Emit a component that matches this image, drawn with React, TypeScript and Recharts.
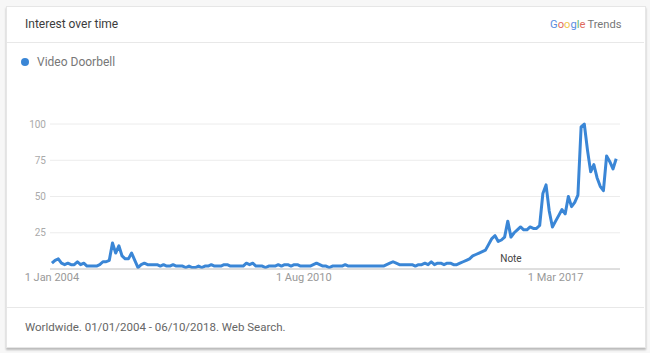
import React from 'react'
import { LineChart, Line, XAxis, YAxis, CartesianGrid, ReferenceLine } from 'recharts'

// Monthly search interest, Jan 2004 .. Oct 2018 (index 0 = Jan 2004)
const interest: number[] = [
  4, 6, 7, 4, 3, 4, 3, 3, 5, 3, 4, 2, 2, 2, 2, 3, 5, 5, 6, 18,
  11, 16, 9, 7, 7, 11, 6, 1, 3, 4, 3, 3, 3, 3, 2, 3, 2, 2, 3, 2,
  2, 2, 1, 2, 1, 1, 2, 1, 2, 2, 3, 2, 2, 2, 3, 3, 2, 2, 2, 2,
  2, 4, 3, 4, 2, 2, 2, 1, 2, 2, 2, 3, 2, 3, 3, 2, 3, 3, 2, 2,
  2, 2, 3, 4, 3, 2, 2, 1, 2, 2, 2, 2, 3, 2, 2, 2, 2, 2, 2, 2,
  2, 2, 2, 2, 2, 3, 4, 5, 4, 3, 3, 3, 3, 3, 2, 3, 3, 4, 3, 5,
  3, 4, 4, 3, 4, 4, 3, 3, 4, 5, 6, 7, 9, 10, 11, 12, 13, 17, 21, 23,
  19, 20, 22, 33, 22, 25, 27, 29, 27, 27, 29, 28, 28, 30, 52, 58, 40, 29, 33, 37,
  41, 38, 50, 43, 46, 51, 98, 100, 82, 67, 72, 63, 57, 54, 78, 74, 69, 76,
]

const seriesName = 'Video Doorbell'
const xTicks = [0, 79, 158]
const xTickLabels = ['1 Jan 2004', '1 Aug 2010', '1 Mar 2017']
const yTicks = [25, 50, 75, 100]
const noteMonth = 144

const data = interest.map((value, month) => ({ month, value }))

const BLUE = '#3a86d6'
const FONT = 'Roboto, "Noto Sans", Arial, sans-serif'

const googleLetters = [
  { ch: 'G', color: '#5a8ee0' },
  { ch: 'o', color: '#e06a5e' },
  { ch: 'o', color: '#f2c74c' },
  { ch: 'g', color: '#5a8ee0' },
  { ch: 'l', color: '#5fb274' },
  { ch: 'e', color: '#e06a5e' },
]

function NoteLabel(props: any) {
  const { viewBox } = props
  if (!viewBox) return null
  return (
    <text
      x={viewBox.x}
      y={viewBox.y + viewBox.height - 7}
      textAnchor="middle"
      fontSize={10}
      fontFamily={FONT}
      fill="#444"
    >
      Note
    </text>
  )
}

export default function App() {
  return (
    <div
      style={{
        position: 'absolute',
        left: 0,
        top: 0,
        width: 650,
        height: 353,
        background: '#f7f7f7',
        fontFamily: FONT,
        overflow: 'hidden',
      }}
    >
      <div
        style={{
          position: 'absolute',
          left: 6,
          top: 6,
          width: 638,
          height: 340,
          background: '#fff',
          border: '1px solid #e6e6e6',
          boxShadow: '0 2px 2px rgba(0,0,0,0.25)',
        }}
      />
      <div style={{ position: 'absolute', left: 25, top: 17, fontSize: 12, color: '#3c3c3c' }}>
        Interest over time
      </div>
      <div style={{ position: 'absolute', left: 550, top: 18, fontSize: 11.2 }}>
        {googleLetters.map((l, i) => (
          <span key={i} style={{ color: l.color }}>
            {l.ch}
          </span>
        ))}
        <span style={{ color: '#777', marginLeft: 2 }}>Trends</span>
      </div>
      <div style={{ position: 'absolute', left: 7, top: 42, width: 637, height: 1, background: '#e8e8e8' }} />
      <div style={{ position: 'absolute', left: 21, top: 58, width: 8, height: 8, borderRadius: 4, background: BLUE }} />
      <div style={{ position: 'absolute', left: 37, top: 55, fontSize: 12, color: '#777' }}>{seriesName}</div>
      <div style={{ position: 'absolute', left: 7, top: 307, width: 637, height: 1, background: '#e8e8e8' }} />
      <div style={{ position: 'absolute', left: 25, top: 320, fontSize: 11.5, color: '#666' }}>
        Worldwide. 01/01/2004 - 06/10/2018. Web Search.
      </div>

      <div style={{ position: 'absolute', left: 0, top: 0 }}>
        <LineChart width={650} height={353} data={data} margin={{ top: 124, right: 30, bottom: 54, left: 0 }}>
          <CartesianGrid vertical={false} stroke="#ececec" />
          <XAxis
            dataKey="month"
            type="number"
            domain={[-0.6, 178.2]}
            ticks={xTicks}
            tickFormatter={(v: number) => xTickLabels[xTicks.indexOf(v)] ?? ''}
            axisLine={{ stroke: '#c8c8c8' }}
            tickLine={false}
            tickSize={2}
            tickMargin={2}
            height={30}
            tick={{ fontSize: 11, fill: '#999', fontFamily: FONT }}
          />
          <YAxis
            domain={[0, 100]}
            ticks={yTicks}
            axisLine={false}
            tickLine={false}
            tickSize={2}
            tickMargin={2}
            width={50}
            tick={{ fontSize: 10, fill: '#aaa', fontFamily: FONT }}
          />
          <ReferenceLine x={noteMonth} stroke="none" label={<NoteLabel />} />
          <Line
            type="linear"
            dataKey="value"
            stroke={BLUE}
            strokeWidth={3}
            strokeLinejoin="round"
            dot={false}
            isAnimationActive={false}
          />
        </LineChart>
      </div>
    </div>
  )
}
